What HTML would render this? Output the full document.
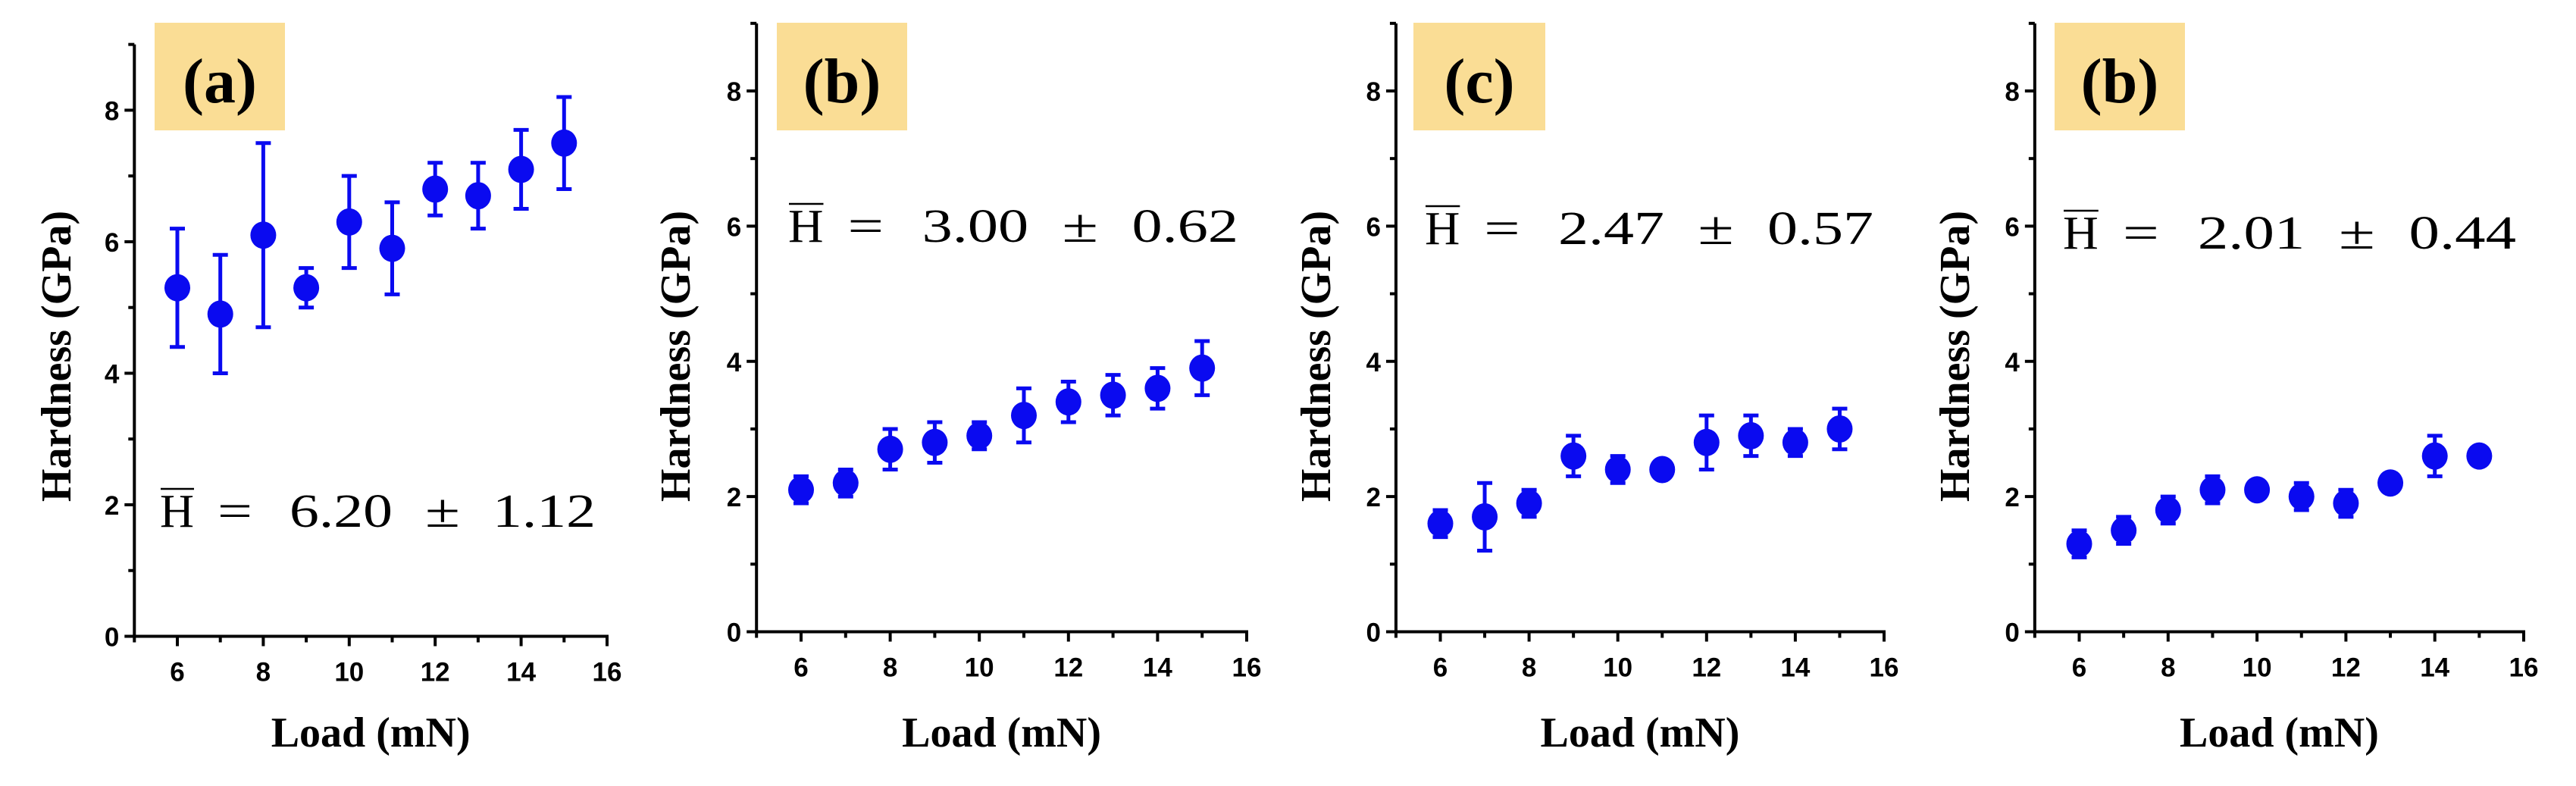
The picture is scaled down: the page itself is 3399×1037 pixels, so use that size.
<!DOCTYPE html>
<html><head><meta charset="utf-8"><style>
html,body{margin:0;padding:0;background:#fff;}
svg{display:block;}
</style></head><body>
<svg id="fig" width="3399" height="1037" viewBox="0 0 3399 1037" xmlns="http://www.w3.org/2000/svg"></svg>
<script>
const loads = [6,7,8,9,10,11,12,13,14,15];
const hardnessA = [5.3,4.9,6.1,5.3,6.3,5.9,6.8,6.7,7.1,7.5];
const errorA = [0.9,0.9,1.4,0.3,0.7,0.7,0.4,0.5,0.6,0.7];
const hardnessB = [2.1,2.2,2.7,2.8,2.9,3.2,3.4,3.5,3.6,3.9];
const errorB = [0.2,0.2,0.3,0.3,0.2,0.4,0.3,0.3,0.3,0.4];
const hardnessC = [1.6,1.7,1.9,2.6,2.4,2.4,2.8,2.9,2.8,3.0];
const errorC = [0.2,0.5,0.2,0.3,0.2,0.1,0.4,0.3,0.2,0.3];
const hardnessD = [1.3,1.5,1.8,2.1,2.1,2.0,1.9,2.2,2.6,2.6];
const errorD = [0.2,0.2,0.2,0.2,0.1,0.2,0.2,0.1,0.3,0.1];
const panelLabels = ["(a)","(b)","(c)","(b)"];
const meanTexts = ["6.20","3.00","2.47","2.01"];
const sdTexts = ["1.12","0.62","0.57","0.44"];
const yTickLabels = ["0","2","4","6","8"];
const xTickLabels = ["6","8","10","12","14","16"];

const NS="http://www.w3.org/2000/svg";
const svg=document.getElementById('fig');
function mk(tag,attrs,parent){const e=document.createElementNS(NS,tag);for(const k in attrs)e.setAttribute(k,attrs[k]);(parent||svg).appendChild(e);return e;}

const layouts=[
 {y0:839.5,y8:145.4,x6:234,x16:801,box:[204,30,172,142],ann:[211,695,575],yt:75},
 {y0:833.5,y8:120,x6:1057,x16:1645,box:[1025,30,172,142],ann:[1040,319,594],yt:892},
 {y0:833.5,y8:120,x6:1900.5,x16:2486,box:[1865,30,174,142],ann:[1880,322,592],yt:1737},
 {y0:833.5,y8:120,x6:2743.5,x16:3330,box:[2711,30,172,142],ann:[2722,328,598],yt:2580}
];
const series=[[hardnessA,errorA],[hardnessB,errorB],[hardnessC,errorC],[hardnessD,errorD]];
const names=['a','b','c','d'];

layouts.forEach((L,i)=>{
  const g=mk('g',{});
  
  
  const yS=v=>L.y0+(L.y8-L.y0)*v/8;
  const xS=v=>L.x6+(L.x16-L.x6)*(v-6)/10;
  const top=yS(9), left=xS(5), right=xS(16);
  const bx=mk('rect',{x:L.box[0],y:L.box[1],width:L.box[2],height:L.box[3],fill:'#fadd95'},g);
  
  
  const bt=mk('text',{x:L.box[0]+L.box[2]/2,y:L.box[1]+105,'text-anchor':'middle','font-family':'"Liberation Serif",serif','font-weight':'bold','font-size':84,fill:'#000'},g);
  bt.textContent=panelLabels[i];
  
  
  const ya=mk('line',{x1:left,y1:top,x2:left,y2:L.y0+2,stroke:'#000','stroke-width':4},g);
  
  
  const xa=mk('line',{x1:left-2,y1:L.y0,x2:right+2,y2:L.y0,stroke:'#000','stroke-width':4},g);
  
  
  for(let v=0;v<=9;v++){
    const major=v%2===0;
    const t=mk('line',{x1:left,x2:left-(major?13:8),y1:yS(v),y2:yS(v),stroke:'#000','stroke-width':4},g);
    
    
  }
  yTickLabels.forEach(s=>{
    const t=mk('text',{x:left-20,y:yS(+s)+13,'text-anchor':'end','font-family':'"Liberation Sans",sans-serif','font-weight':'bold','font-size':35,fill:'#000'},g);
    t.textContent=s;
    
    
  });
  for(let v=5;v<=16;v++){
    const major=v%2===0;
    const t=mk('line',{x1:xS(v),x2:xS(v),y1:L.y0,y2:L.y0+(major?13:8),stroke:'#000','stroke-width':4},g);
    
    
  }
  xTickLabels.forEach(s=>{
    const t=mk('text',{x:xS(+s),y:L.y0+59,'text-anchor':'middle','font-family':'"Liberation Sans",sans-serif','font-weight':'bold','font-size':35,fill:'#000'},g);
    t.textContent=s;
    
    
  });
  const xt=mk('text',{x:(left+right)/2,y:985,'text-anchor':'middle','font-family':'"Liberation Serif",serif','font-weight':'bold','font-size':56,fill:'#000'},g);
  xt.textContent='Load (mN)';
  
  
  const yt=mk('text',{x:0,y:0,'text-anchor':'middle','font-family':'"Liberation Serif",serif','font-weight':'bold','font-size':56,fill:'#000',transform:`translate(${L.yt+18},470) rotate(-90)`},g);
  yt.textContent='Hardness (GPa)';
  
  
  // annotation pieces
  const k=L.ann[2]/575, ax=L.ann[0], ay=L.ann[1];
  const pieces=[['H',0,45],['=',76,46],[meanTexts[i],171,136],['±',350,46],[sdTexts[i],439,136]];
  pieces.forEach(p=>{
    const t=mk('text',{x:ax+p[1]*k,y:ay,'font-family':'"Liberation Serif",serif','font-size':62,fill:'#000',textLength:p[2]*k,lengthAdjust:'spacingAndGlyphs'},g);
    t.textContent=p[0];
    
    
  });
  const ob=mk('line',{x1:ax+1,x2:ax+45*k,y1:ay-50,y2:ay-50,stroke:'#000','stroke-width':2.5},g);
  
  
  const [vals,errs]=series[i];
  loads.forEach((x,j)=>{
    const cx=xS(x), cy=yS(vals[j]), hi=yS(vals[j]+errs[j]), lo=yS(vals[j]-errs[j]);
    const eb=mk('path',{d:`M${cx},${hi}V${lo}M${cx-10},${hi}H${cx+10}M${cx-10},${lo}H${cx+10}`,stroke:'#0a0af0','stroke-width':5,fill:'none'},g);
    
    
    const c=mk('ellipse',{cx:cx,cy:cy,rx:17,ry:18,fill:'#0a0af0'},g);
    
    
  });
});
</script>
</body></html>
